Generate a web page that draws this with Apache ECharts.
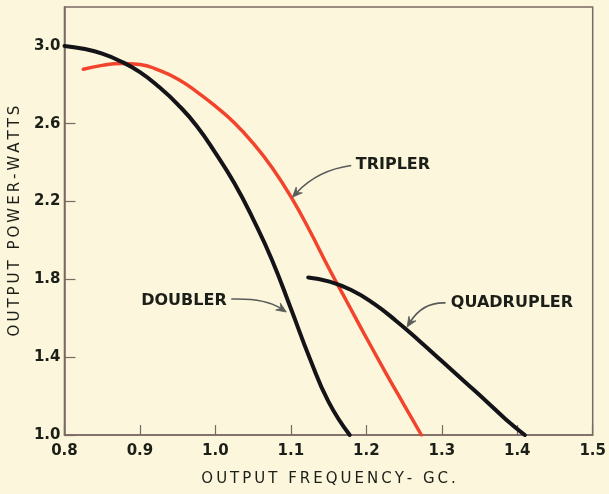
<!DOCTYPE html>
<html>
<head>
<meta charset="utf-8">
<script src="https://cdn.jsdelivr.net/npm/echarts@6/dist/echarts.min.js"></script>
<style>
  html, body { margin: 0; padding: 0; background: #fbf6dc; }
  #chart { width: 609px; height: 494px; }
</style>
</head>
<body>
<div id="chart"></div>
<script>
// Output power (watts) against output frequency (GC) for each multiplier
const doubler = [
  [0.800, 3.000], [0.825, 2.985], [0.850, 2.960], [0.875, 2.920], [0.900, 2.865],
  [0.925, 2.790], [0.950, 2.700], [0.975, 2.590], [1.000, 2.450], [1.025, 2.295],
  [1.050, 2.110], [1.075, 1.900], [1.100, 1.650], [1.125, 1.395], [1.150, 1.170],
  [1.178, 1.000]
];
const tripler = [
  [0.825, 2.880], [0.850, 2.900], [0.875, 2.910], [0.900, 2.905], [0.925, 2.875],
  [0.950, 2.830], [0.975, 2.765], [1.000, 2.690], [1.025, 2.605], [1.050, 2.500],
  [1.075, 2.375], [1.100, 2.225], [1.125, 2.050], [1.150, 1.860], [1.175, 1.680],
  [1.200, 1.500], [1.225, 1.325], [1.250, 1.155], [1.273, 1.000]
];
const quadrupler = [
  [1.123, 1.810], [1.150, 1.790], [1.180, 1.745], [1.210, 1.675], [1.240, 1.585],
  [1.270, 1.485], [1.300, 1.380], [1.330, 1.275], [1.360, 1.170], [1.385, 1.080],
  [1.410, 1.000]
];

// Axis tick values
const xTicks = [0.8, 0.9, 1.0, 1.1, 1.2, 1.3, 1.4, 1.5];
const yTicks = [1.0, 1.4, 1.8, 2.2, 2.6, 3.0];

// Curve call-outs (data units): text anchor, arrow start, arrow bend, arrow tip
const calloutNames = ['TRIPLER', 'DOUBLER', 'QUADRUPLER'];
const calloutText = [[1.186, 2.388], [1.015, 1.689], [1.312, 1.679]];
const arrowStart = [[1.180, 2.385], [1.021, 1.699], [1.305, 1.679]];
const arrowBend = [[1.136, 2.362], [1.066, 1.704], [1.275, 1.684]];
const arrowTip = [[1.102, 2.222], [1.094, 1.632], [1.254, 1.555]];

const spaced = s => s.split('').join('\u2009');
const INK = '#1c1f17';
const FRAME = '#7b6a62';
const ARROW = '#585c58';

const curve = (name, data, color, width, z) => ({
  name: name, type: 'line', data: data,
  smooth: 0.5,
  showSymbol: false, z: z,
  lineStyle: { color: color, width: width, cap: 'round' }
});

const chart = echarts.init(document.getElementById('chart'), null, { renderer: 'canvas' });

chart.setOption({
  backgroundColor: '#fbf6dc',
  animation: false,
  grid: {
    left: 64, right: 8, top: 7, bottom: 59,
    show: true, borderColor: FRAME, borderWidth: 1.5, backgroundColor: 'transparent'
  },
  xAxis: {
    type: 'value', min: 0.8, max: 1.5,
    name: spaced('OUTPUT FREQUENCY- GC.'),
    nameLocation: 'middle', nameGap: 37,
    nameTextStyle: { color: INK, fontFamily: 'DejaVu Sans', fontSize: 15 },
    axisLine: { show: true, lineStyle: { color: FRAME, width: 1.5 } },
    axisTick: { show: true, inside: true, length: 10, customValues: xTicks, lineStyle: { color: FRAME, width: 1.2 } },
    axisLabel: {
      customValues: xTicks, margin: 9, color: INK,
      fontFamily: 'DejaVu Sans', fontWeight: 'bold', fontSize: 15,
      formatter: v => v.toFixed(1)
    },
    splitLine: { show: false }
  },
  yAxis: {
    type: 'value', min: 1.0, max: 3.2,
    name: spaced('OUTPUT POWER-WATTS'),
    nameLocation: 'middle', nameGap: 41,
    nameTextStyle: { color: INK, fontFamily: 'DejaVu Sans', fontSize: 15 },
    axisLine: { show: true, lineStyle: { color: FRAME, width: 1.5 } },
    axisTick: { show: true, inside: true, length: 11, customValues: yTicks, lineStyle: { color: FRAME, width: 1.2 } },
    axisLabel: {
      customValues: yTicks, margin: 4, color: INK,
      fontFamily: 'DejaVu Sans', fontWeight: 'bold', fontSize: 15,
      formatter: v => v.toFixed(1)
    },
    splitLine: { show: false }
  },
  series: [
    curve('Tripler', tripler, '#f2432c', 3.5, 2),
    curve('Doubler', doubler, '#141418', 4, 3),
    curve('Quadrupler', quadrupler, '#141418', 4, 3),
    {
      // curved leader arrows from each call-out to its curve
      name: 'Arrows', type: 'custom', silent: true, z: 4,
      data: calloutNames.map((n, i) => [i]),
      renderItem: function (params, api) {
        const i = params.dataIndex;
        const s = api.coord(arrowStart[i]);
        const c = api.coord(arrowBend[i]);
        const t = api.coord(arrowTip[i]);
        const dx = t[0] - c[0], dy = t[1] - c[1];
        const len = Math.hypot(dx, dy) || 1;
        const ux = dx / len, uy = dy / len;   // direction at the tip
        const px = -uy, py = ux;              // normal
        const L = 10, W = 4.2, N = 6.5;
        const head = [
          t,
          [t[0] - ux * L + px * W, t[1] - uy * L + py * W],
          [t[0] - ux * N, t[1] - uy * N],
          [t[0] - ux * L - px * W, t[1] - uy * L - py * W]
        ];
        const endX = t[0] - ux * N, endY = t[1] - uy * N;
        return {
          type: 'group',
          children: [
            {
              type: 'bezierCurve',
              shape: { x1: s[0], y1: s[1], x2: endX, y2: endY, cpx1: c[0], cpy1: c[1] },
              style: { stroke: ARROW, lineWidth: 1.6, fill: null }
            },
            {
              type: 'polygon',
              shape: { points: head },
              style: { fill: ARROW, stroke: ARROW, lineWidth: 0.8 }
            }
          ]
        };
      }
    },
    {
      name: 'Callouts', type: 'custom', silent: true, z: 4,
      data: calloutText,
      renderItem: function (params, api) {
        const p = api.coord([api.value(0), api.value(1)]);
        const name = calloutNames[params.dataIndex];
        return {
          type: 'text', x: p[0], y: p[1],
          style: {
            text: name,
            fill: INK,
            font: 'bold 16px "DejaVu Sans"',
            align: name === 'DOUBLER' ? 'right' : 'left',
            verticalAlign: 'middle'
          }
        };
      }
    }
  ]
});
</script>
</body>
</html>
